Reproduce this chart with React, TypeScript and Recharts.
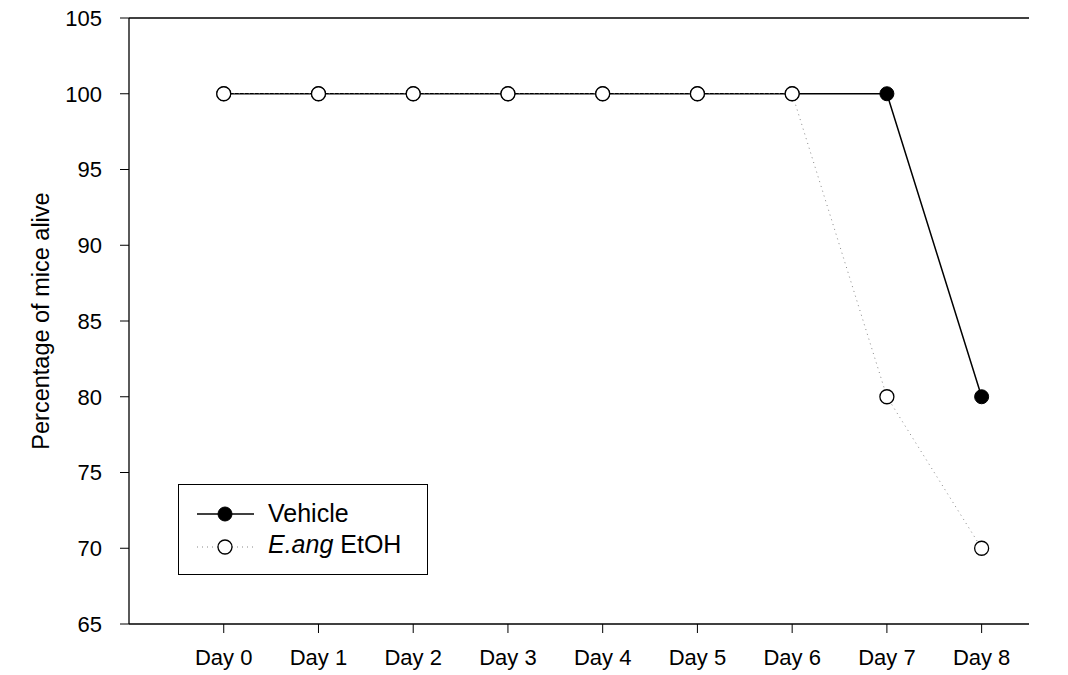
import { LineChart, Line, XAxis, YAxis, ReferenceLine, Legend } from 'recharts'

const days = [0, 1, 2, 3, 4, 5, 6, 7, 8]
const vehicle = [100, 100, 100, 100, 100, 100, 100, 100, 80]
const eang = [100, 100, 100, 100, 100, 100, 100, 80, 70]
const yTicks = [65, 70, 75, 80, 85, 90, 95, 100, 105]

const data = days.map((d, i) => ({ day: d, vehicle: vehicle[i], eang: eang[i] }))

const font = 'Arial, "Liberation Sans", sans-serif'

function LegendBox() {
  return (
    <svg width={251} height={92} style={{ display: 'block' }}>
      <rect x={0.5} y={0.5} width={249} height={90} fill="#fff" stroke="#000" strokeWidth={1} />
      <line x1={19} y1={30} x2={76} y2={30} stroke="#000" strokeWidth={1.5} />
      <circle cx={47} cy={30} r={7} fill="#000" stroke="#000" />
      <text x={90} y={38} fontSize={25} fontFamily={font} fill="#000">Vehicle</text>
      <line x1={19} y1={63} x2={76} y2={63} stroke="#888" strokeWidth={1} strokeDasharray="1 4" />
      <circle cx={47} cy={63} r={7} fill="#fff" stroke="#000" strokeWidth={1.3} />
      <text x={90} y={69} fontSize={25} fontFamily={font} fill="#000">
        <tspan fontStyle="italic">E.ang</tspan> EtOH
      </text>
    </svg>
  )
}

export default function App() {
  return (
    <div style={{ position: 'absolute', left: 0, top: 0, background: '#fff' }}>
      <LineChart width={1068} height={675} data={data} margin={{ top: 18, right: 39, bottom: 0, left: 0 }}>
        <XAxis
          dataKey="day"
          type="number"
          domain={[-1, 8.5]}
          ticks={days}
          tickFormatter={(v) => `Day ${v}`}
          height={51}
          tickSize={9}
          tickMargin={16}
          axisLine={{ stroke: '#000', strokeWidth: 1.3 }}
          tickLine={{ stroke: '#000' }}
          tick={{ fontSize: 22, fill: '#000', fontFamily: font }}
        />
        <YAxis
          domain={[65, 105]}
          ticks={yTicks}
          width={129}
          tickSize={9}
          tickMargin={18}
          axisLine={{ stroke: '#000', strokeWidth: 1.3 }}
          tickLine={{ stroke: '#000' }}
          tick={{ fontSize: 22, fill: '#000', fontFamily: font }}
          label={{
            content: ({ viewBox }: any) => (
              <text
                x={41}
                y={viewBox.y + viewBox.height / 2}
                transform={`rotate(-90, 41, ${viewBox.y + viewBox.height / 2})`}
                textAnchor="middle"
                dominantBaseline="central"
                fontSize={23.5}
                fontFamily={font}
                fill="#000"
              >
                Percentage of mice alive
              </text>
            ),
          }}
        />
        <ReferenceLine y={105} stroke="#000" strokeWidth={1.3} />
        <Line
          dataKey="vehicle"
          stroke="#000"
          strokeWidth={1.5}
          dot={{ r: 7, fill: '#000', stroke: '#000', strokeWidth: 1 }}
          isAnimationActive={false}
        />
        <Line
          dataKey="eang"
          stroke="#888"
          strokeWidth={1}
          strokeDasharray="1 4"
          dot={{ r: 7, fill: '#fff', stroke: '#000', strokeWidth: 1.3, strokeDasharray: '' }}
          isAnimationActive={false}
        />
        <Legend
          layout="vertical"
          align="center"
          verticalAlign="middle"
          content={() => <LegendBox />}
          wrapperStyle={{ position: 'absolute', left: 178, top: 484, width: 251, height: 92 }}
        />
      </LineChart>
    </div>
  )
}
